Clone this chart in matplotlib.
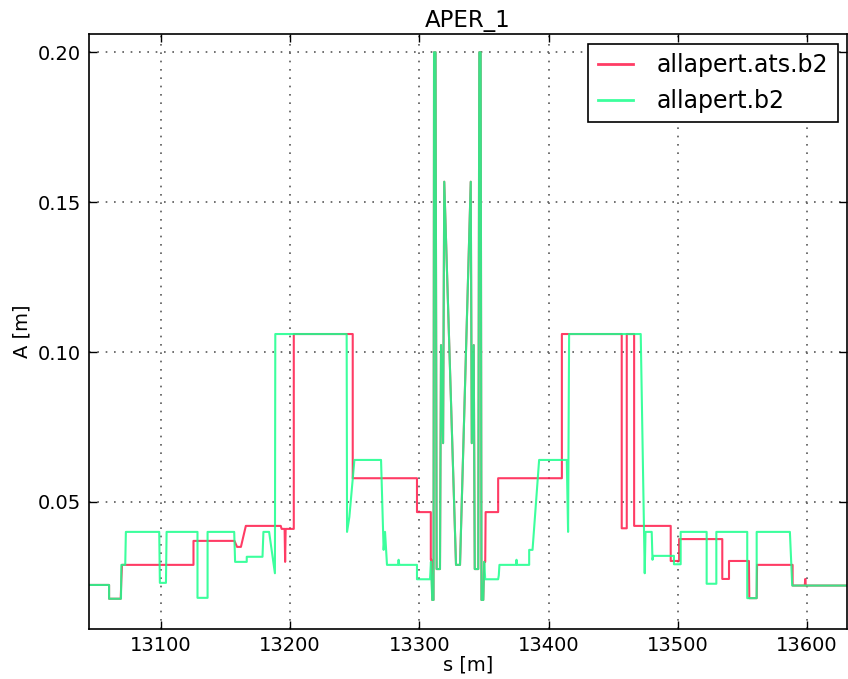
import matplotlib
matplotlib.use('Agg')
import matplotlib.pyplot as plt
from matplotlib.ticker import FormatStrFormatter

title = "APER_1"
xlabel = "s [m]"
ylabel = "A [m]"
labels = ["allapert.ats.b2", "allapert.b2"]
xticks = [13100, 13200, 13300, 13400, 13500, 13600]
yticks = [0.05, 0.10, 0.15, 0.20]

# central region (shared by both series)
center_s = [13310.0, 13311.0, 13311.4, 13312.6, 13313.4, 13316.0, 13316.8, 13318.4,
            13319.3, 13328.4, 13331.5, 13339.8, 13340.6, 13342.1, 13342.9, 13345.6,
            13346.4, 13347.5, 13348.1, 13349.5, 13350.2]
center_a = [0.0173, 0.0173, 0.200, 0.200, 0.0276, 0.0276, 0.1023, 0.0696,
            0.1568, 0.029, 0.029, 0.1568, 0.0696, 0.1023, 0.0276, 0.0276,
            0.200, 0.200, 0.0173, 0.0173, 0.030]

red_s = ([13040, 13060.0, 13060.0, 13069.0, 13069.5, 13070.0, 13125.3, 13125.3, 13157.0,
          13159.0, 13162.0, 13165.8, 13192.8, 13193.5, 13195.8, 13196.2, 13196.6,
          13202.9, 13202.9, 13248.5, 13248.5, 13298.2, 13298.2, 13308.9, 13308.9,
          13309.4]
         + center_s +
         [13351.0, 13351.3, 13361.0, 13361.0, 13410.3, 13410.3, 13456.6, 13456.6,
          13460.5, 13460.5, 13466.2, 13466.2, 13494.5, 13494.5, 13501.0, 13501.0,
          13534.4, 13534.4, 13539.6, 13539.6, 13555.0, 13555.3, 13561.0, 13561.3,
          13588.8, 13588.8, 13598.2, 13598.6, 13599.0, 13640])
red_a = ([0.0223, 0.0223, 0.0177, 0.0177, 0.024, 0.029, 0.029, 0.037, 0.037,
          0.035, 0.035, 0.042, 0.042, 0.041, 0.041, 0.030, 0.041,
          0.041, 0.106, 0.106, 0.0579, 0.0579, 0.0466, 0.0466, 0.0307,
          0.0307]
         + center_a +
         [0.030, 0.0466, 0.0466, 0.0579, 0.0579, 0.106, 0.106, 0.0412,
          0.0412, 0.106, 0.106, 0.042, 0.042, 0.0303, 0.0303, 0.0376,
          0.0376, 0.0243, 0.0243, 0.0303, 0.0303, 0.0179, 0.0179, 0.029,
          0.029, 0.0221, 0.0221, 0.0243, 0.0221, 0.0221])

green_s = ([13040, 13060.0, 13060.0, 13069.2, 13069.5, 13072.5, 13073.0, 13098.8,
            13099.3, 13104.0, 13104.5, 13128.4, 13128.4, 13136.2, 13136.2, 13156.8,
            13157.5, 13166.5, 13166.5, 13178.7, 13179.4, 13183.8, 13188.3, 13188.6,
            13243.8, 13244.1, 13245.9, 13249.8, 13270.4, 13272.4, 13273.5, 13275.0,
            13283.5, 13284.0, 13284.5, 13298.2, 13298.2, 13308.3, 13309.0]
           + center_s +
           [13351.0, 13361.0, 13361.5, 13362.0, 13374.8, 13375.2, 13375.6, 13385.0,
            13385.0, 13387.6, 13392.7, 13414.1, 13415.1, 13415.9, 13471.3, 13474.4,
            13475.0, 13479.8, 13480.4, 13481.0, 13497.0, 13497.0, 13502.2, 13502.2,
            13522.3, 13522.3, 13529.8, 13529.8, 13553.7, 13553.7, 13561.0, 13561.0,
            13586.7, 13588.5, 13640])
green_a = ([0.0223, 0.0223, 0.0177, 0.0177, 0.029, 0.029, 0.040, 0.040,
            0.023, 0.023, 0.040, 0.040, 0.018, 0.018, 0.040, 0.040,
            0.030, 0.030, 0.0317, 0.0317, 0.040, 0.040, 0.0262, 0.106,
            0.106, 0.040, 0.045, 0.064, 0.064, 0.034, 0.040, 0.029,
            0.029, 0.0307, 0.029, 0.029, 0.0242, 0.0242, 0.030]
           + center_a +
           [0.0242, 0.0242, 0.0255, 0.029, 0.029, 0.0307, 0.029, 0.029,
            0.034, 0.034, 0.064, 0.064, 0.040, 0.106, 0.106, 0.0262,
            0.040, 0.040, 0.0307, 0.032, 0.032, 0.0292, 0.0292, 0.040,
            0.040, 0.0227, 0.0227, 0.040, 0.040, 0.0179, 0.0179, 0.040,
            0.040, 0.0221, 0.0221])

fig = plt.figure(figsize=(8.48, 6.79), dpi=100)
ax = fig.add_axes([0.105, 0.0736, 0.894, 0.876])
ax.plot(red_s, red_a, color='#ff1a4a', lw=1.5, alpha=0.85, label=labels[0])
ax.plot(green_s, green_a, color='#1aff8c', lw=1.5, alpha=0.85, label=labels[1])

ax.set_xlim(13044.5, 13631)
ax.set_ylim(0.0076, 0.206)
ax.set_xticks(xticks)
ax.set_yticks(yticks)
ax.yaxis.set_major_formatter(FormatStrFormatter('%.2f'))
ax.grid(True, color='0.35', linestyle=(0, (1, 4)), linewidth=1.2)
ax.tick_params(direction='in', top=True, right=True, length=6, width=1,
               labelsize=14)
ax.tick_params(axis='x', pad=5)
ax.tick_params(axis='y', pad=6)
for sp in ax.spines.values():
    sp.set_linewidth(1.2)

ax.set_title(title, fontsize=16.5, pad=5)
ax.set_xlabel(xlabel, fontsize=14)
ax.xaxis.set_label_coords(0.5, -0.045)
ax.set_ylabel(ylabel, fontsize=14)

leg = ax.legend(loc='upper right', fontsize=17, fancybox=False, framealpha=1,
                edgecolor='k', handlelength=1.5, handletextpad=1.0,
                borderaxespad=0.4)
leg.get_frame().set_linewidth(1.2)
for line in leg.get_lines():
    line.set_linewidth(2)

fig.savefig('out.png', dpi=100)
